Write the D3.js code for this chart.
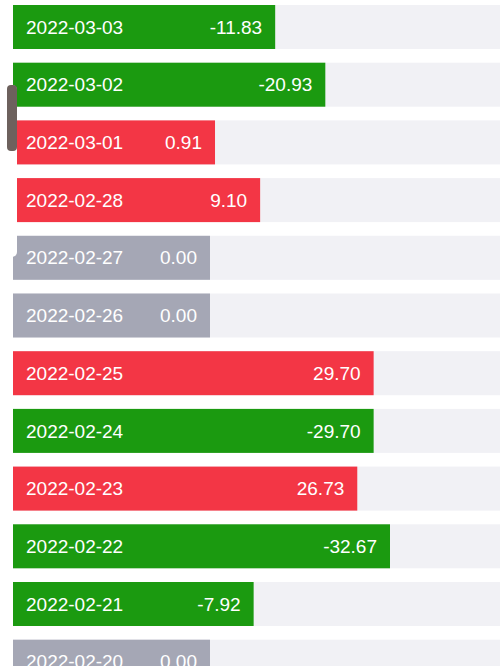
<!DOCTYPE html>
<html><head><meta charset="utf-8">
<script src="https://cdn.jsdelivr.net/npm/d3@7"></script>
<style>body{margin:0;background:#fff;overflow:hidden}</style>
</head><body><div id="chart"></div>
<script>
let dates = ['2022-03-03','2022-03-02','2022-03-01','2022-02-28','2022-02-27','2022-02-26','2022-02-25','2022-02-24','2022-02-23','2022-02-22','2022-02-21','2022-02-20']
let values = [-11.83,-20.93,0.91,9.10,0.00,0.00,29.70,-29.70,26.73,-32.67,-7.92,0.00]

let width = 500, height = 666

let svg = d3.select('#chart').append('svg')
  .attr('width', width).attr('height', height)

// rows: step 57.7, bar height 44
let y = d3.scaleBand().domain(dates).range([5, 5 + 57.7 * 11 + 44]).paddingInner(0.2374).paddingOuter(0)
// bar end position
let x = d3.scaleLinear().domain([0, 32.67]).range([210, 390])

function colour(v){
  if (v > 0) return '#f33645'
  if (v < 0) return '#1b9a10'
  return '#a5a7b5'
}

let rows = svg.selectAll('g.row').data(dates).join('g')
  .attr('class','row')
  .attr('transform', d => 'translate(0,' + y(d) + ')')

rows.append('rect').attr('x', 13).attr('width', width - 13)
  .attr('height', y.bandwidth()).attr('fill', '#f1f1f5')

rows.append('rect').attr('x', 13)
  .attr('width', (d,i) => x(Math.abs(values[i])) - 13)
  .attr('height', y.bandwidth())
  .attr('fill', (d,i) => colour(values[i]))

rows.append('text').attr('x', 26).attr('y', y.bandwidth()/2)
  .attr('dy','0.35em').attr('fill','#fff')
  .style('font-family','"Liberation Sans", sans-serif').style('font-size','19px')
  .text(d => d)

rows.append('text').attr('x', (d,i) => x(Math.abs(values[i])) - 13)
  .attr('y', y.bandwidth()/2).attr('dy','0.35em').attr('text-anchor','end')
  .attr('fill','#fff')
  .style('font-family','"Liberation Sans", sans-serif').style('font-size','19px')
  .text((d,i) => values[i].toFixed(2))

// scrollbar
svg.append('rect').attr('x', 7).attr('y', 85).attr('width', 10).attr('height', 172)
  .attr('rx', 5).attr('fill', '#fff')
svg.append('rect').attr('x', 7).attr('y', 85).attr('width', 10).attr('height', 66)
  .attr('rx', 4).attr('fill', '#6d615d')
</script></body></html>
